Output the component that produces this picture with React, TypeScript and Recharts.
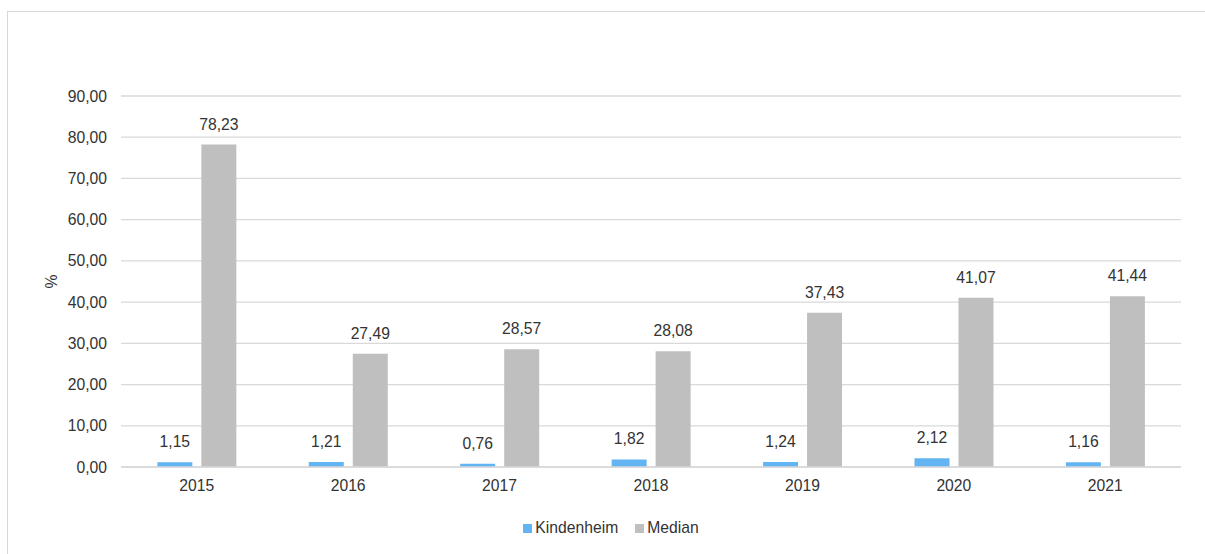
import React from 'react';
import { BarChart, Bar, XAxis, YAxis, CartesianGrid, Legend, LabelList } from 'recharts';

const years = ['2015', '2016', '2017', '2018', '2019', '2020', '2021'];
const kindenheim = [1.15, 1.21, 0.76, 1.82, 1.24, 2.12, 1.16];
const median = [78.23, 27.49, 28.57, 28.08, 37.43, 41.07, 41.44];
const yTicks = [0, 10, 20, 30, 40, 50, 60, 70, 80, 90];
const yAxisTitle = '%';

const data = years.map((y, i) => ({ year: y, Kindenheim: kindenheim[i], Median: median[i] }));

const fmt = (v: any) => Number(v).toFixed(2).replace('.', ',');
const FONT = 'Liberation Sans, Arial, sans-serif';
const TEXT = '#333333';
const FS = 15.7;

const YTitle = (props: any) => {
  const vb = props.viewBox || { x: 40, y: 96, width: 81, height: 371 };
  const x = vb.x + 11;
  const y = vb.y + vb.height / 2;
  return (
    <text
      x={x}
      y={y}
      transform={`rotate(-90, ${x}, ${y})`}
      textAnchor="middle"
      dominantBaseline="central"
      fill={TEXT}
      fontSize={FS}
      fontFamily={FONT}
    >
      {yAxisTitle}
    </text>
  );
};

export default function App() {
  return (
    <div style={{ position: 'absolute', left: 0, top: 0, width: 1205, height: 554, overflow: 'hidden', background: '#fff', fontFamily: FONT }}>
      <div style={{ position: 'absolute', left: 7, top: 11, width: 1220, height: 560, border: '1px solid #d9d9d9', boxSizing: 'border-box' }} />
      <div style={{ position: 'absolute', left: 0, top: 0 }}>
        <BarChart
          width={1205}
          height={554}
          data={data}
          margin={{ top: 96, right: 24, left: 40, bottom: 57 }}
          barGap={9}
          barCategoryGap="24%"
        >
          <CartesianGrid vertical={false} stroke="#d9d9d9" strokeWidth={1.3} />
          <XAxis
            dataKey="year"
            axisLine={{ stroke: '#d9d9d9', strokeWidth: 1.3 }}
            tickLine={false}
            tickSize={0}
            tickMargin={13}
            height={30}
            tick={{ fill: TEXT, fontSize: FS, fontFamily: FONT }}
          />
          <YAxis
            domain={[0, 90]}
            ticks={yTicks}
            interval={0}
            width={81}
            axisLine={false}
            tickLine={false}
            tickSize={0}
            tickMargin={14}
            tickFormatter={fmt}
            tick={{ fill: TEXT, fontSize: FS, fontFamily: FONT }}
            label={<YTitle />}
          />
          <Legend
            layout="horizontal"
            verticalAlign="middle"
            align="center"
            iconType="square"
            iconSize={9}
            wrapperStyle={{ top: 519, left: 17, width: 1205, fontFamily: FONT, fontSize: FS }}
            formatter={(value: any) => <span style={{ color: TEXT, fontSize: FS, marginLeft: -1, marginRight: 7 }}>{value}</span>}
          />
          <Bar dataKey="Kindenheim" fill="#63b4f3" isAnimationActive={false}>
            <LabelList dataKey="Kindenheim" position="top" offset={15} formatter={fmt} style={{ fill: TEXT, fontSize: FS, fontFamily: FONT }} />
          </Bar>
          <Bar dataKey="Median" fill="#bfbfbf" isAnimationActive={false}>
            <LabelList dataKey="Median" position="top" offset={15} formatter={fmt} style={{ fill: TEXT, fontSize: FS, fontFamily: FONT }} />
          </Bar>
        </BarChart>
      </div>
    </div>
  );
}
